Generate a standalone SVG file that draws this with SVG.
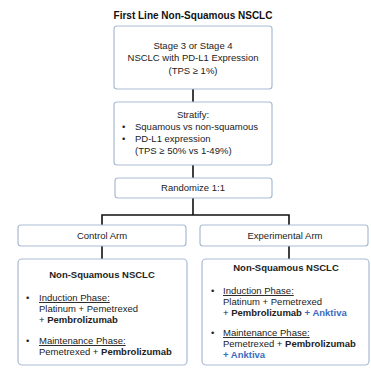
<svg xmlns="http://www.w3.org/2000/svg" width="371" height="371" viewBox="0 0 371 371">
<style>
text{font-family:"Liberation Sans",Arial,sans-serif;font-size:9.5px;fill:#222}
.t{font-weight:bold;font-size:10px;fill:#111}
.b{font-weight:bold}
.u{text-decoration:underline}
.m{text-anchor:middle}
.k{fill:#3a6cc0;font-weight:bold}
.box{fill:#fff;stroke:#a9bbd3;stroke-width:1.2}
.c{stroke:#111;stroke-width:1.6;fill:none}
</style>
<rect width="371" height="371" fill="#fff"/>
<text class="t m" x="193" y="18.5">First Line Non-Squamous NSCLC</text>
<g id="connectors">
<path class="c" d="M193 89V102M193 165V178M193 198V215M102 225V215H289V225M102 246V259M289 246V259"/>
</g>
<g id="n1">
<rect class="box" x="114" y="26" width="158" height="63" rx="3"/>
<text class="m" x="193" y="48.5">Stage 3 or Stage 4</text>
<text class="m" x="193" y="61">NSCLC with PD-L1 Expression</text>
<text class="m" x="193" y="73.5">(TPS ≥ 1%)</text>
</g>
<g id="n2">
<rect class="box" x="114" y="102" width="158" height="63" rx="3"/>
<text class="m" x="193" y="118">Stratify:</text>
<text x="122" y="130">•</text><text x="135" y="130">Squamous vs non-squamous</text>
<text x="122" y="142">•</text><text x="135" y="142">PD-L1 expression</text>
<text x="135" y="154">(TPS ≥ 50% vs 1-49%)</text>
</g>
<g id="n3">
<rect class="box" x="115" y="178" width="157" height="20" rx="3"/>
<text class="m" x="193" y="191">Randomize 1:1</text>
</g>
<g id="n4">
<rect class="box" x="18" y="225" width="168" height="21" rx="3"/>
<text class="m" x="102" y="238.5">Control Arm</text>
</g>
<g id="n5">
<rect class="box" x="200" y="225" width="168" height="21" rx="3"/>
<text class="m" x="285" y="238.5">Experimental Arm</text>
</g>
<g id="n6">
<rect class="box" x="18" y="259" width="169" height="106" rx="4"/>
<text class="b m" x="102" y="278">Non-Squamous NSCLC</text>
<text x="26" y="301">•</text><text class="u" x="39" y="301">Induction Phase:</text>
<text x="39" y="312">Platinum + Pemetrexed</text>
<text x="39" y="323"><tspan>+ </tspan><tspan class="b">Pembrolizumab</tspan></text>
<text x="26" y="344">•</text><text class="u" x="39" y="344">Maintenance Phase:</text>
<text x="39" y="355">Pemetrexed + <tspan class="b">Pembrolizumab</tspan></text>
</g>
<g id="n7">
<rect class="box" x="202" y="259" width="167" height="106" rx="4"/>
<text class="b m" x="286" y="271">Non-Squamous NSCLC</text>
<text x="211" y="294">•</text><text class="u" x="223" y="294">Induction Phase:</text>
<text x="223" y="305">Platinum + Pemetrexed</text>
<text x="223" y="316"><tspan>+ </tspan><tspan class="b">Pembrolizumab</tspan><tspan class="k"> + Anktiva</tspan></text>
<text x="211" y="336">•</text><text class="u" x="223" y="336">Maintenance Phase:</text>
<text x="223" y="347">Pemetrexed + <tspan class="b">Pembrolizumab</tspan></text>
<text class="k" x="223" y="358">+ Anktiva</text>
</g>
</svg>
